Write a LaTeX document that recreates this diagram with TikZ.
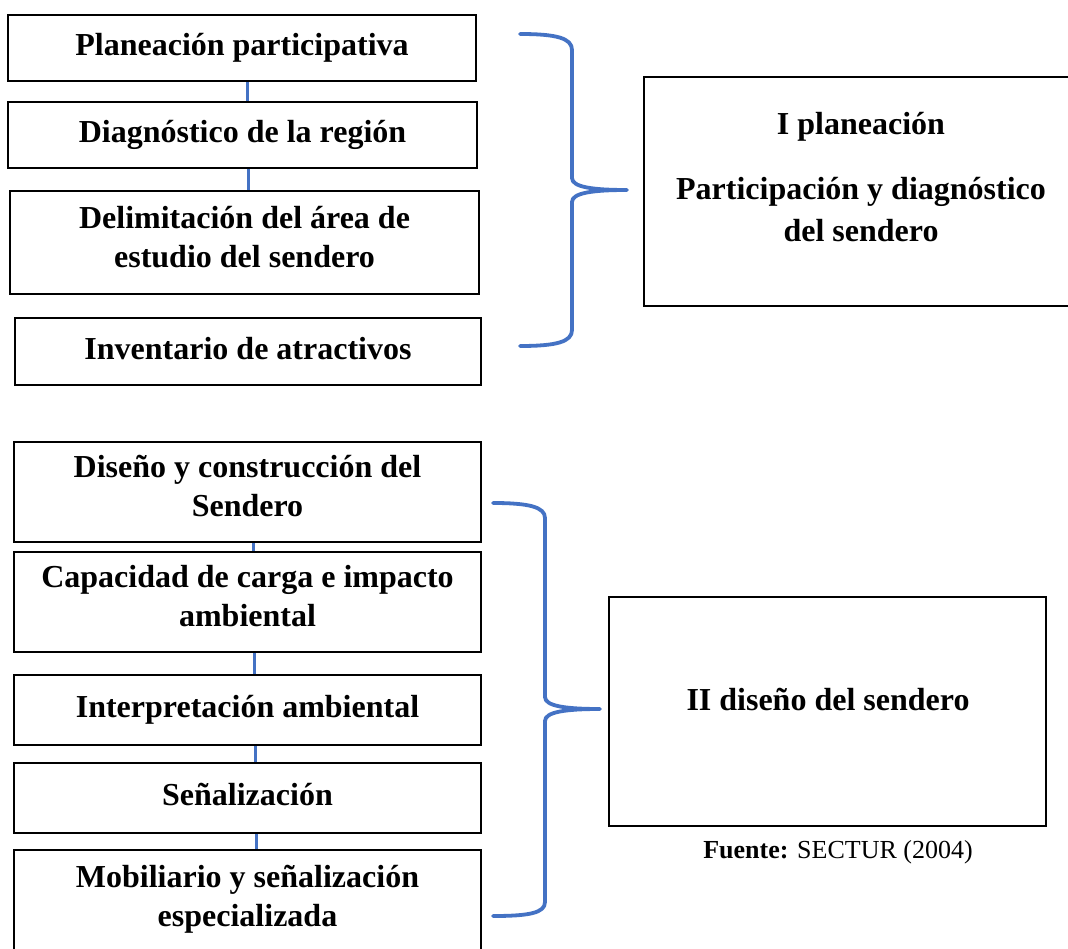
\documentclass[tikz,border=0pt]{standalone}
\usepackage{fontspec}
\setmainfont{Liberation Serif}
\definecolor{lineblue}{HTML}{4472C4}
\begin{document}
\begin{tikzpicture}[x=1pt,y=-1pt,
  stagebox/.style={draw=black, line width=2.4pt, fill=white, inner sep=0pt, align=center,
    font=\fontsize{32pt}{39pt}\selectfont\bfseries,
    execute at begin node=\strut, execute at end node=\strut},
  bigbox/.style={draw=black, line width=2.4pt, inner sep=0pt},
  bigtext/.style={align=center, inner sep=0pt, font=\fontsize{32pt}{39pt}\selectfont\bfseries},
  conn/.style={draw=lineblue, line width=3pt},
  brace/.style={draw=lineblue, line width=3.8pt, line cap=round, line join=round}
]
\useasboundingbox (0,0) rectangle (1068,949);
\fill[white] (0,0) rectangle (1068,949);

% ---- upper group
\node[stagebox, minimum width=468pt, minimum height=66pt] (b1) at (242,48) {Planeación participativa};
\node[stagebox, minimum width=469pt, minimum height=66pt] (b2) at (242.5,135) {Diagnóstico de la región};
\node[stagebox, minimum width=469pt, minimum height=103pt] (b3) at (244.5,242.5) {Delimitación del área de\\estudio del sendero};
\node[stagebox, minimum width=466pt, minimum height=67pt] (b4) at (248,351.5) {Inventario de atractivos};

\draw[conn] ([xshift=5pt]b1.south) -- ([xshift=5pt]b1.south |- b2.north);
\draw[conn] ([xshift=5.5pt]b2.south) -- ([xshift=5.5pt]b2.south |- b3.north);

\node[bigbox, minimum width=428pt, minimum height=229pt] (r1) at (858,191.5) {};
\node[bigtext] (r1t) at (861,135) [anchor=base] {I planeación};
\node[bigtext] (r1u) at (861,200) [anchor=base] {Participación y diagnóstico};
\node[bigtext] (r1v) at (861,242) [anchor=base] {del sendero};

\coordinate (br1t) at (520,34);
\coordinate (br1m) at (627,190);
\coordinate (br1b) at (520,346);
\draw[brace] (br1t) .. controls (556,34) and (572,38) .. (572,50) -- (572,178)
  .. controls (572,187) and (592,190) .. (br1m)
  .. controls (592,190) and (572,193) .. (572,202) -- (572,330)
  .. controls (572,342) and (556,346) .. (br1b);

% ---- lower group
\node[stagebox, minimum width=467pt, minimum height=100pt] (b5) at (247.5,492) {Diseño y construcción del\\Sendero};
\node[stagebox, minimum width=467pt, minimum height=100pt] (b6) at (247.5,602) {Capacidad de carga e impacto\\ambiental};
\node[stagebox, minimum width=467pt, minimum height=70pt] (b7) at (247.5,710) {Interpretación ambiental};
\node[stagebox, minimum width=467pt, minimum height=70pt] (b8) at (247.5,798) {Señalización};
\node[stagebox, minimum width=467pt, minimum height=104pt] (b9) at (247.5,902) {Mobiliario y señalización\\especializada};

\draw[conn] ([xshift=5.5pt]b5.south) -- ([xshift=5.5pt]b5.south |- b6.north);
\draw[conn] ([xshift=6.5pt]b6.south) -- ([xshift=6.5pt]b6.south |- b7.north);
\draw[conn] ([xshift=7.5pt]b7.south) -- ([xshift=7.5pt]b7.south |- b8.north);
\draw[conn] ([xshift=8.5pt]b8.south) -- ([xshift=8.5pt]b8.south |- b9.north);

\node[bigbox, minimum width=437pt, minimum height=229pt] (r2) at (827.5,711.5) {};
\node[bigtext] (r2t) at (828,710) [anchor=base] {II diseño del sendero};

\coordinate (br2t) at (493,503);
\coordinate (br2m) at (600,709);
\coordinate (br2b) at (493,916);
\draw[brace] (br2t) .. controls (529,503) and (545,507) .. (545,518) -- (545,697)
  .. controls (545,706) and (565,709) .. (br2m)
  .. controls (565,709) and (545,712) .. (545,721) -- (545,902)
  .. controls (545,913) and (529,916) .. (br2b);

\node[anchor=base, inner sep=0pt, font=\fontsize{26pt}{31pt}\selectfont] (src) at (838,858) {\textbf{Fuente:} SECTUR (2004)};
\end{tikzpicture}
\end{document}
